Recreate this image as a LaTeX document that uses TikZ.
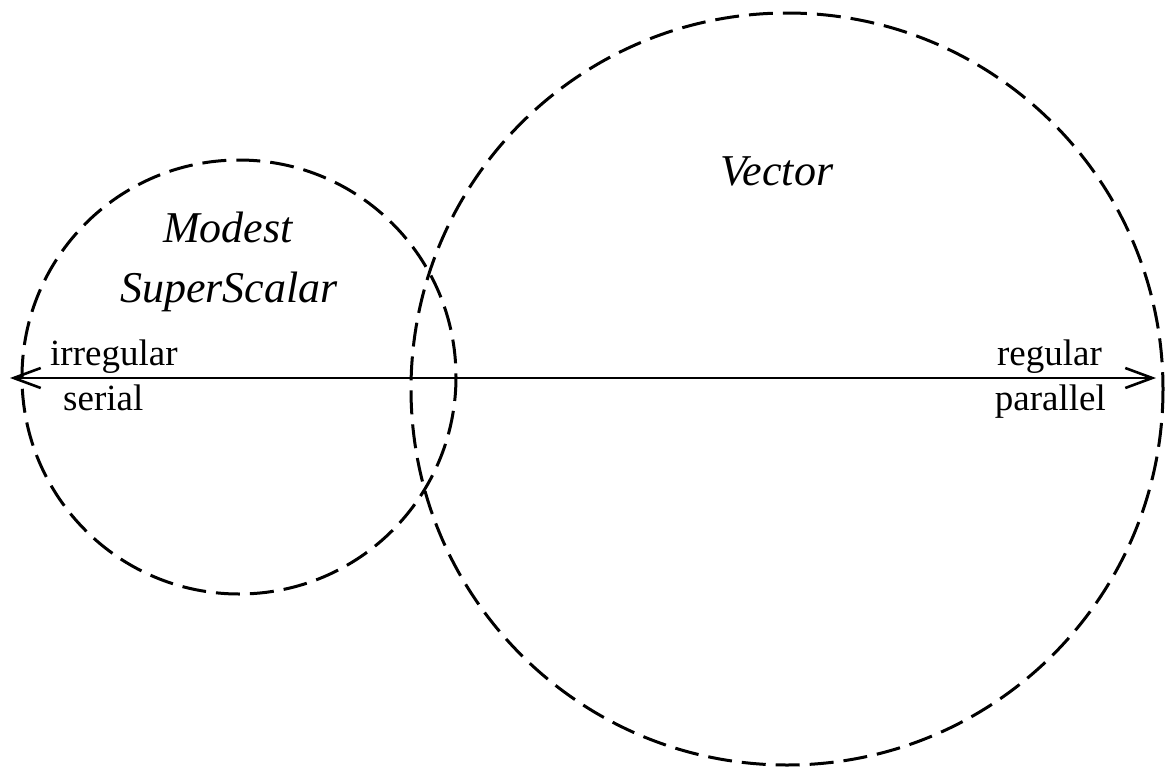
\documentclass[tikz,border=0pt]{standalone}
\usepackage{fontspec}
\setmainfont{Liberation Serif}
\usetikzlibrary{arrows.meta}
\begin{document}
\begin{tikzpicture}[x=1pt,y=-1pt,
  dashcircle/.style={draw,line width=3pt,dash pattern=on 24pt off 10pt},
  axis/.style={line width=2.6pt,{Straight Barb[length=27pt,width=20pt,line width=2.6pt]}-{Straight Barb[length=27pt,width=20pt,line width=2.6pt]}},
  roman/.style={font=\fontsize{37}{44}\selectfont,inner sep=0pt},
  ital/.style={font=\fontsize{44}{60}\selectfont\itshape,inner sep=0pt}]
\useasboundingbox (0,0) rectangle (1176,769);
\draw[dashcircle] (239,377) circle[radius=217];
\draw[dashcircle] (787,389) circle[radius=376];
\coordinate (L) at (10,378);
\coordinate (R) at (1156,378);
\draw[axis] (L) -- (R);
\node[ital,anchor=base] (vec) at (777,185) {Vector};
\node[ital,anchor=base] (mod) at (228,242) {Modest};
\node[ital,anchor=base] (ss) at (229,302) {SuperScalar};
\node[roman,anchor=base west] (irr) at (50,365) {irregular};
\node[roman,anchor=base west] (ser) at (63,410) {serial};
\node[roman,anchor=base east] (reg) at (1102,365) {regular};
\node[roman,anchor=base east] (par) at (1106,410) {parallel};
\end{tikzpicture}
\end{document}
